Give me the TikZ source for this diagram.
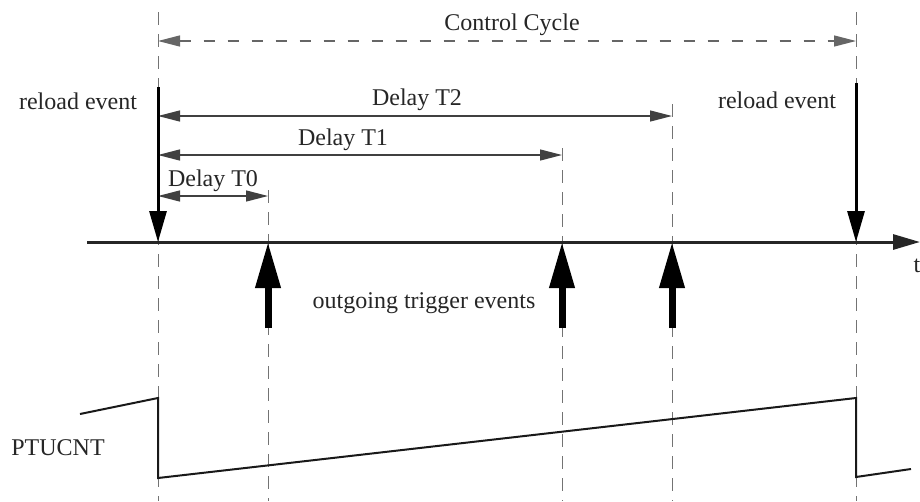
\documentclass[tikz,border=0pt]{standalone}
\usepackage{fontspec}
\setmainfont{Liberation Serif}
\usetikzlibrary{arrows.meta}
\begin{document}
\begin{tikzpicture}[x=1pt,y=-1pt,
  lbl/.style={font=\fontsize{24}{28}\selectfont, text=black!85, inner sep=0pt},
  guide/.style={dash pattern=on 13pt off 9pt, line width=1pt, draw=black!55},
  dimline/.style={line width=1.3pt, draw=black!75, {Triangle[length=22pt,width=11pt]}-{Triangle[length=22pt,width=11pt]}},
  cycline/.style={line width=1.3pt, draw=black!60, dash pattern=on 11pt off 13pt, {Triangle[length=22pt,width=11pt]}-{Triangle[length=22pt,width=11pt]}},
  reloadarr/.style={line width=3pt, draw=black, -{Triangle[length=31pt,width=17pt]}},
  trigarr/.style={line width=7pt, draw=black, -{Triangle[length=46pt,width=24pt]}},
  axisline/.style={line width=3pt, draw=black!85, -{Triangle[length=27pt,width=15pt]}},
  saw/.style={line width=2pt, draw=black!90}
]
\useasboundingbox (0,0) rectangle (920,501);

% key coordinates
\coordinate (L)  at (158,242);
\coordinate (T0) at (268,242);
\coordinate (T1) at (562,242);
\coordinate (T2) at (672,242);
\coordinate (R)  at (856,242);

% guide lines
\coordinate (gLtop) at (158,12);  \coordinate (gLbot) at (158,501);
\coordinate (g0top) at (268,190); \coordinate (g0bot) at (268,501);
\coordinate (g1top) at (562,148); \coordinate (g1bot) at (562,501);
\coordinate (g2top) at (672,104); \coordinate (g2bot) at (672,501);
\coordinate (gRtop) at (856,12);  \coordinate (gRbot) at (856,501);
\draw[guide] (gLtop) -- (gLbot);
\draw[guide] (g0top) -- (g0bot);
\draw[guide] (g1top) -- (g1bot);
\draw[guide] (g2top) -- (g2bot);
\draw[guide] (gRtop) -- (gRbot);

% time axis
\coordinate (axL) at (87,242);
\coordinate (axR) at (920,242);
\draw[axisline] (axL) -- (axR);
\node[lbl] (tlab) at (917,266) {t};

% control cycle
\coordinate (ccL) at (158,41);
\coordinate (ccR) at (856,41);
\draw[cycline] (ccL) -- (ccR);
\node[lbl] (cc) at (512,25) {Control Cycle};

% delays
\coordinate (d2L) at (158,116); \coordinate (d2R) at (672,116);
\coordinate (d1L) at (158,155); \coordinate (d1R) at (562,155);
\coordinate (d0L) at (158,196); \coordinate (d0R) at (268,196);
\draw[dimline] (d2L) -- (d2R);
\draw[dimline] (d1L) -- (d1R);
\draw[dimline] (d0L) -- (d0R);
\node[lbl] (dt2) at (417,100) {Delay T2};
\node[lbl] (dt1) at (343,140) {Delay T1};
\node[lbl] (dt0) at (213,181) {Delay T0};

% reload events
\coordinate (rlLtop) at (158,87);
\coordinate (rlRtop) at (856,83);
\draw[reloadarr] (rlLtop) -- (L);
\draw[reloadarr] (rlRtop) -- (R);
\node[lbl] (rlL) at (78,101) {reload event};
\node[lbl] (rlR) at (777,100) {reload event};

% outgoing triggers
\coordinate (tr0) at (268,328);
\coordinate (tr1) at (562,328);
\coordinate (tr2) at (672,328);
\draw[trigarr] (tr0) -- (T0);
\draw[trigarr] (tr1) -- (T1);
\draw[trigarr] (tr2) -- (T2);
\node[lbl] (trig) at (424,303) {outgoing trigger events};

% PTUCNT sawtooth
\node[lbl] (ptu) at (58,448) {PTUCNT};
\coordinate (s0) at (80,414);
\coordinate (s1) at (158,398);
\coordinate (s2) at (158,478);
\coordinate (s3) at (856,398);
\coordinate (s4) at (856,477);
\coordinate (s5) at (911,469);
\draw[saw] (s0) -- (s1) -- (s2) -- (s3) -- (s4) -- (s5);
\end{tikzpicture}
\end{document}
